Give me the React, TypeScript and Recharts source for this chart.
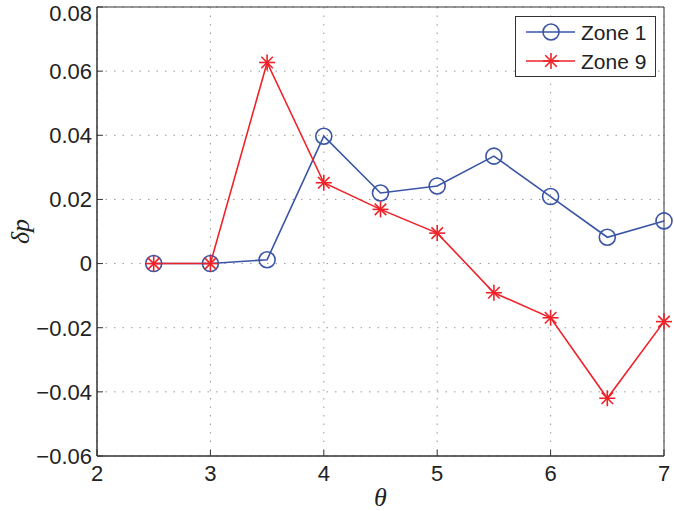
import React from "react";
import { LineChart, Line, XAxis, YAxis, CartesianGrid, ReferenceArea, Label } from "recharts";

const theta = [2.5, 3, 3.5, 4, 4.5, 5, 5.5, 6, 6.5, 7];
const zone1 = [0, 0, 0.0012, 0.0397, 0.022, 0.0242, 0.0335, 0.0209, 0.0082, 0.0133];
const zone9 = [0, 0, 0.0627, 0.0252, 0.0169, 0.0095, -0.0091, -0.0169, -0.042, -0.0181];
const xTicks = [2, 3, 4, 5, 6, 7];
const yTicks = [-0.06, -0.04, -0.02, 0, 0.02, 0.04, 0.06, 0.08];
const seriesNames = ["Zone 1", "Zone 9"];

const BLUE = "#3a55a6";
const RED = "#ee2229";
const FONT = "'Liberation Sans', Arial, sans-serif";

const data = theta.map((t, i) => ({ theta: t, zone1: zone1[i], zone9: zone9[i] }));

const fmtY = (v: number) => {
  if (Math.abs(v) < 1e-9) return "0";
  const s = Math.abs(v).toFixed(2);
  return v < 0 ? "\u2212" + s : s;
};

const Circle = (props: any) => {
  const { cx, cy } = props;
  if (cx == null || cy == null) return null;
  return <circle cx={cx} cy={cy} r={8} fill="none" stroke={BLUE} strokeWidth={1.6} />;
};

const Star = (props: any) => {
  const { cx, cy } = props;
  if (cx == null || cy == null) return null;
  const r = 8;
  const d = r * 0.72;
  return (
    <g stroke={RED} strokeWidth={1.6}>
      <line x1={cx - r} y1={cy} x2={cx + r} y2={cy} />
      <line x1={cx} y1={cy - r} x2={cx} y2={cy + r} />
      <line x1={cx - d} y1={cy - d} x2={cx + d} y2={cy + d} />
      <line x1={cx - d} y1={cy + d} x2={cx + d} y2={cy - d} />
    </g>
  );
};

const LegendBox = () => (
  <svg width={142} height={62} style={{ display: "block" }}>
    <rect x={0.5} y={0.5} width={140} height={60} fill="#fff" stroke="#333" strokeWidth={1} />
    <line x1={11} y1={16} x2={60} y2={16} stroke={BLUE} strokeWidth={1.6} />
    <Circle cx={36} cy={16} />
    <text x={66} y={23.5} fontSize={21} fontFamily={FONT} fill="#222">{seriesNames[0]}</text>
    <line x1={11} y1={45} x2={60} y2={45} stroke={RED} strokeWidth={1.6} />
    <Star cx={36} cy={45} />
    <text x={66} y={52.5} fontSize={21} fontFamily={FONT} fill="#222">{seriesNames[1]}</text>
  </svg>
);

export default function App() {
  return (
    <div style={{ position: "absolute", left: 0, top: 0, width: 674, height: 511, background: "#fff" }}>
      <LineChart width={674} height={511} data={data} margin={{ top: 7, right: 10, left: 0, bottom: 0 }}>
        <CartesianGrid stroke="#999" strokeDasharray="1.5 7" />
        <XAxis
          dataKey="theta"
          type="number"
          domain={[2, 7]}
          ticks={xTicks}
          height={55}
          tickSize={-6}
          tickMargin={15}
          tickLine={{ stroke: "#333" }}
          axisLine={{ stroke: "#333" }}
          tick={{ fontSize: 22, fontFamily: FONT, fill: "#222" }}
        >
          <Label value="θ" position="insideBottom" offset={5} style={{ fontSize: 26, fontStyle: "italic", fontFamily: "'Liberation Serif', serif", fill: "#222" }} />
        </XAxis>
        <XAxis
          xAxisId="top"
          orientation="top"
          dataKey="theta"
          type="number"
          domain={[2, 7]}
          ticks={xTicks}
          height={0}
          tickSize={-6}
          tick={false}
          tickLine={{ stroke: "#333" }}
          axisLine={{ stroke: "#333" }}
        />
        <YAxis
          type="number"
          domain={[-0.06, 0.08]}
          ticks={yTicks}
          width={97}
          tickSize={-6}
          tickMargin={11}
          tickLine={{ stroke: "#333" }}
          axisLine={{ stroke: "#333" }}
          tickFormatter={fmtY}
          tick={{ fontSize: 22, fontFamily: FONT, fill: "#222" }}
        >
          <Label value="δp" angle={-90} position="insideLeft" offset={20} style={{ fontSize: 26, fontStyle: "italic", fontFamily: "'Liberation Serif', serif", fill: "#222", textAnchor: "middle" }} />
        </YAxis>
        <YAxis
          yAxisId="right"
          orientation="right"
          type="number"
          domain={[-0.06, 0.08]}
          ticks={yTicks}
          width={0}
          tickSize={-6}
          tick={false}
          tickLine={{ stroke: "#333" }}
          axisLine={{ stroke: "#333" }}
        />
        <ReferenceArea x1={2} x2={7} y1={-0.06} y2={0.08} fill="none" stroke="#333" strokeWidth={1} ifOverflow="extendDomain" />
        <Line dataKey="zone1" name={seriesNames[0]} stroke={BLUE} strokeWidth={1.6} dot={<Circle />} activeDot={false} isAnimationActive={false} />
        <Line dataKey="zone9" name={seriesNames[1]} stroke={RED} strokeWidth={1.6} dot={<Star />} activeDot={false} isAnimationActive={false} />
      </LineChart>
      <div style={{ position: "absolute", left: 515, top: 16 }}>
        <LegendBox />
      </div>
    </div>
  );
}
